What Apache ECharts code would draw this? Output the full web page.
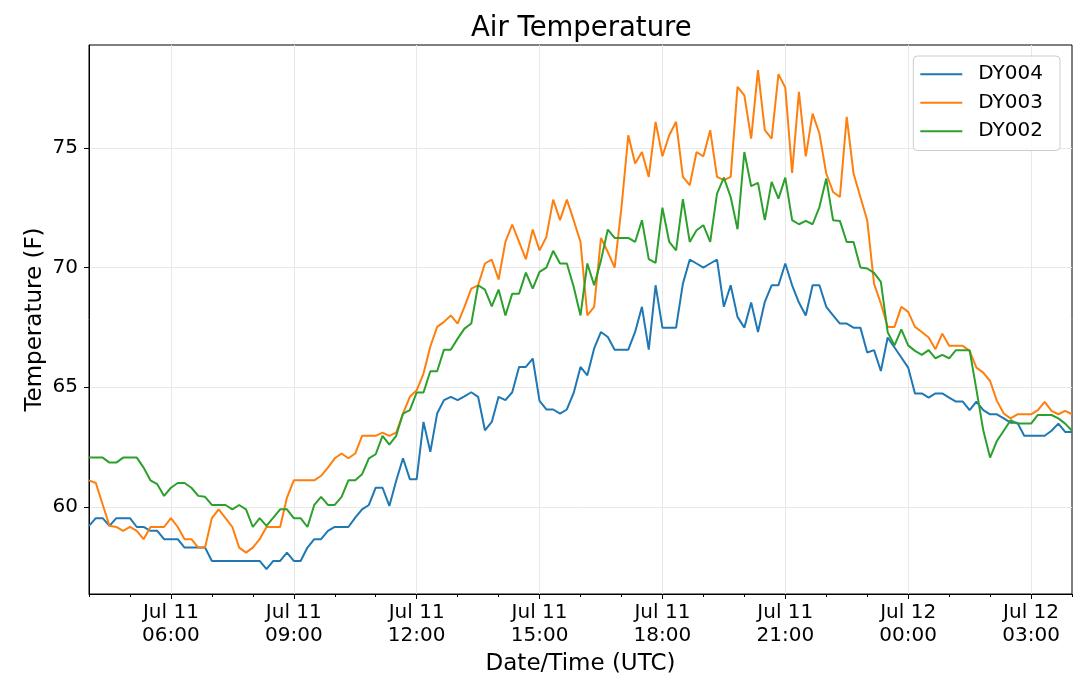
<!DOCTYPE html>
<html>
<head>
<meta charset="utf-8">
<title>Air Temperature</title>
<script src="https://cdn.jsdelivr.net/npm/echarts@6/dist/echarts.min.js"></script>
<style>
    html, body { margin: 0; padding: 0; background: #fff; }
    #chart { width: 1080px; height: 688px; }
</style>
</head>
<body>
<div id="chart"></div>
<script>
// series names as shown in the legend
var seriesNames = ['DY004', 'DY003', 'DY002'];
var seriesColors = ['#1f77b4', '#ff7f0e', '#2ca02c'];

// readings every 10 minutes from Jul 11 04:00 UTC to Jul 12 04:00 UTC
var startTime = Date.UTC(2019, 6, 11, 4, 0);
var stepMinutes = 10;

var dy004 = [
    59.21, 59.53, 59.53, 59.21, 59.53, 59.53, 59.53, 59.16, 59.16, 59.0,
    59.0, 58.65, 58.65, 58.65, 58.3, 58.3, 58.3, 58.3, 57.74, 57.74,
    57.74, 57.74, 57.74, 57.74, 57.74, 57.74, 57.4, 57.74, 57.74, 58.09,
    57.74, 57.74, 58.3, 58.65, 58.65, 59.0, 59.16, 59.16, 59.16, 59.55,
    59.9, 60.08, 60.8, 60.8, 60.04, 61.09, 62.03, 61.16, 61.16, 63.55,
    62.3, 63.9, 64.46, 64.6, 64.46, 64.62, 64.79, 64.6, 63.2, 63.55,
    64.6, 64.46, 64.79, 65.85, 65.85, 66.2, 64.43, 64.07, 64.07, 63.9,
    64.07, 64.76, 65.85, 65.5, 66.62, 67.31, 67.1, 66.57, 66.57, 66.57,
    67.31, 68.36, 66.57, 69.26, 67.49, 67.49, 67.49, 69.33, 70.33, 70.17,
    70.0, 70.17, 70.33, 68.36, 69.26, 67.94, 67.49, 68.54, 67.31, 68.57,
    69.26, 69.26, 70.17, 69.26, 68.54, 68.0, 69.26, 69.26, 68.36, 68.0,
    67.66, 67.66, 67.49, 67.49, 66.45, 66.55, 65.68, 67.08, 66.66, 66.24,
    65.82, 64.74, 64.74, 64.57, 64.74, 64.74, 64.57, 64.4, 64.4, 64.04,
    64.4, 64.04, 63.87, 63.87, 63.7, 63.52, 63.52, 62.97, 62.97, 62.97,
    62.97, 63.18, 63.48, 63.13, 63.13
];
var dy003 = [
    61.11, 61.0, 60.1, 59.21, 59.16, 59.0, 59.16, 59.0, 58.65, 59.16,
    59.16, 59.16, 59.53, 59.16, 58.65, 58.65, 58.3, 58.3, 59.53, 59.9,
    59.53, 59.16, 58.3, 58.09, 58.3, 58.65, 59.16, 59.16, 59.16, 60.39,
    61.11, 61.11, 61.11, 61.11, 61.3, 61.64, 62.03, 62.23, 62.03, 62.23,
    62.97, 62.97, 62.97, 63.1, 62.97, 63.1, 63.9, 64.6, 64.87, 65.57,
    66.7, 67.52, 67.73, 68.0, 67.66, 68.36, 69.12, 69.26, 70.17, 70.33,
    69.5, 71.07, 71.8, 71.07, 70.35, 71.59, 70.72, 71.28, 72.84, 71.98,
    72.84, 71.98, 71.07, 68.0, 68.36, 71.24, 70.65, 70.0, 72.5, 75.53,
    74.35, 74.83, 73.79, 76.09, 74.65, 75.53, 76.09, 73.79, 73.44, 74.83,
    74.65, 75.74, 73.79, 73.65, 73.79, 77.55, 77.2, 75.39, 78.25, 75.74,
    75.39, 78.08, 77.52, 73.96, 77.34, 74.65, 76.43, 75.6, 73.93, 73.16,
    72.95, 76.3, 73.93, 72.95, 71.98, 69.33, 68.5, 67.52, 67.52, 68.36,
    68.15, 67.52, 67.31, 67.08, 66.59, 67.24, 66.73, 66.73, 66.73, 66.52,
    65.82, 65.61, 65.26, 64.43, 63.9, 63.7, 63.87, 63.87, 63.87, 64.04,
    64.39, 64.01, 63.87, 64.01, 63.87
];
var dy002 = [
    62.06, 62.06, 62.06, 61.85, 61.85, 62.06, 62.06, 62.06, 61.64, 61.11,
    60.95, 60.46, 60.8, 61.0, 61.0, 60.8, 60.46, 60.42, 60.08, 60.08,
    60.08, 59.9, 60.08, 59.9, 59.16, 59.53, 59.21, 59.55, 59.9, 59.9,
    59.53, 59.53, 59.16, 60.08, 60.42, 60.08, 60.08, 60.42, 61.11, 61.11,
    61.36, 62.03, 62.2, 62.97, 62.6, 62.97, 63.9, 64.04, 64.78, 64.78,
    65.67, 65.67, 66.57, 66.57, 67.03, 67.45, 67.66, 69.26, 69.08, 68.38,
    69.08, 68.0, 68.91, 68.91, 69.79, 69.12, 69.82, 70.0, 70.7, 70.17,
    70.17, 69.2, 68.0, 70.17, 69.26, 70.3, 71.59, 71.24, 71.24, 71.24,
    71.07, 71.98, 70.35, 70.2, 72.5, 71.07, 70.72, 72.86, 71.07, 71.56,
    71.77, 71.07, 73.09, 73.76, 72.95, 71.6, 74.83, 73.4, 73.54, 71.98,
    73.58, 72.88, 73.76, 71.98, 71.81, 71.95, 71.81, 72.53, 73.72, 71.98,
    71.95, 71.07, 71.07, 70.0, 69.96, 69.78, 69.4, 67.3, 66.75, 67.42,
    66.75, 66.52, 66.35, 66.55, 66.21, 66.35, 66.21, 66.55, 66.55, 66.55,
    64.9, 63.2, 62.06, 62.76, 63.18, 63.62, 63.48, 63.48, 63.48, 63.84,
    63.84, 63.84, 63.7, 63.48, 63.18
];
var yTicks = [60, 65, 70, 75];

var monthNames = ['Jan','Feb','Mar','Apr','May','Jun','Jul','Aug','Sep','Oct','Nov','Dec'];
var fontName = 'DejaVu Sans';

function pad(n) {
    return n < 10 ? '0' + n : '' + n;
}

// category labels built from the time of each reading
var times = [];
var categories = [];
for (var i = 0; i < dy004.length; i++) {
    var d = new Date(startTime + i * stepMinutes * 60000);
    times.push(d);
    categories.push(monthNames[d.getUTCMonth()] + ' ' + d.getUTCDate() + '\n' +
        pad(d.getUTCHours()) + ':' + pad(d.getUTCMinutes()));
}

function isHour(index) {
    return times[index].getUTCMinutes() === 0;
}
function isMajor(index) {
    return isHour(index) && times[index].getUTCHours() % 3 === 0;
}

var chart = echarts.init(document.getElementById('chart'));

var option = {
    animation: false,
    backgroundColor: '#fff',
    textStyle: { fontFamily: fontName },
    title: {
        text: 'Air Temperature',
        left: 466,
        top: 10,
        textStyle: { fontFamily: fontName, fontSize: 27.5, fontWeight: 'normal', color: '#000' }
    },
    legend: {
        data: seriesNames,
        orient: 'vertical',
        right: 20,
        top: 56,
        icon: 'rect',
        itemWidth: 42,
        itemHeight: 2,
        itemGap: 8,
        padding: [8, 17, 9, 7],
        borderColor: '#cccccc',
        borderWidth: 1,
        borderRadius: 4,
        backgroundColor: 'rgba(255,255,255,0.8)',
        textStyle: { fontFamily: fontName, fontSize: 20, color: '#000', lineHeight: 20.5, padding: [0, 0, 0, 11] }
    },
    grid: {
        left: 89,
        right: 8,
        top: 45,
        bottom: 94,
        show: true,
        borderColor: '#000',
        borderWidth: 1
    },
    xAxis: [{
        type: 'category',
        data: categories,
        boundaryGap: false,
        name: 'Date/Time (UTC)',
        nameLocation: 'middle',
        nameGap: 57,
        nameTextStyle: { fontFamily: fontName, fontSize: 23, color: '#000' },
        axisLine: { lineStyle: { color: '#000', width: 1 } },
        axisTick: {
            interval: function (index) { return isMajor(index); },
            length: 5,
            lineStyle: { color: '#000' }
        },
        axisLabel: {
            interval: function (index) { return isMajor(index); },
            fontFamily: fontName,
            fontSize: 20,
            color: '#000',
            lineHeight: 23.5,
            margin: 7
        },
        splitLine: {
            show: true,
            interval: function (index) { return isMajor(index); },
            lineStyle: { color: '#e8e8e8', width: 1 }
        }
    }, {
        // hourly minor ticks
        type: 'category',
        data: categories,
        boundaryGap: false,
        position: 'bottom',
        axisLine: { show: false },
        axisLabel: { show: false },
        axisTick: {
            interval: function (index) { return isHour(index) && !isMajor(index); },
            length: 3,
            lineStyle: { color: '#000' }
        },
        splitLine: { show: false }
    }],
    yAxis: {
        type: 'value',
        min: 56.36,
        max: 79.3,
        name: 'Temperature (F)',
        nameLocation: 'middle',
        nameGap: 42,
        nameMoveOverlap: false,
        nameTextStyle: { fontFamily: fontName, fontSize: 23, color: '#000' },
        axisLine: { show: true, lineStyle: { color: '#000', width: 1 } },
        axisTick: { show: true, length: 5, customValues: yTicks, lineStyle: { color: '#000' } },
        axisLabel: { customValues: yTicks, fontFamily: fontName, fontSize: 20, color: '#000', margin: 11 },
        splitLine: { show: true, lineStyle: { color: '#e8e8e8', width: 1 } }
    },
    series: [
        { name: seriesNames[0], type: 'line', data: dy004 },
        { name: seriesNames[1], type: 'line', data: dy003 },
        { name: seriesNames[2], type: 'line', data: dy002 }
    ].map(function (s, k) {
        s.symbol = 'none';
        s.color = seriesColors[k];
        s.lineStyle = { width: 2, color: seriesColors[k] };
        s.xAxisIndex = 0;
        return s;
    })
};

chart.setOption(option);
</script>
</body>
</html>
